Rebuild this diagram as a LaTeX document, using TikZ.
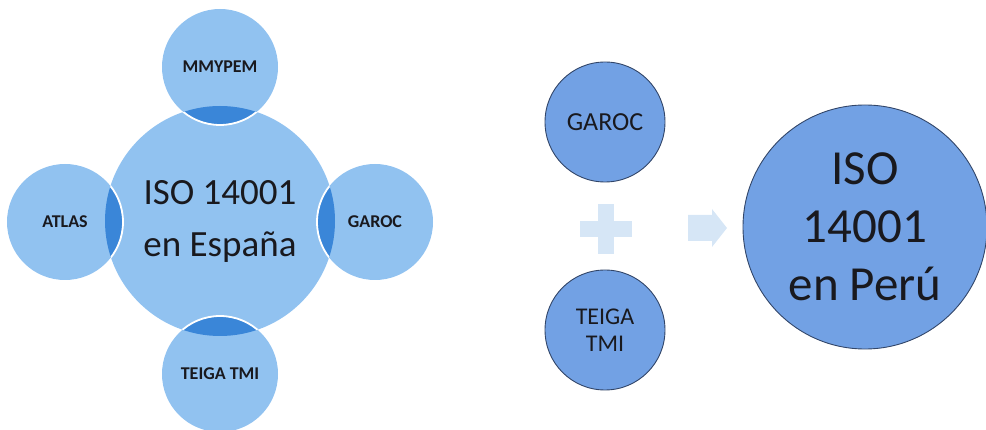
\documentclass[tikz,border=0pt]{standalone}
\usepackage{fontspec}
\setmainfont{Carlito}
\usetikzlibrary{calc}
\definecolor{lblue}{RGB}{145,194,240}
\definecolor{lens}{RGB}{58,134,216}
\definecolor{rblue}{RGB}{114,161,228}
\definecolor{redge}{RGB}{50,70,105}
\definecolor{pale}{RGB}{214,230,246}
\definecolor{txt}{RGB}{25,25,30}
\tikzset{
  lcirc/.style={circle, fill=lblue, inner sep=0pt, align=center, text=txt},
  lring/.style={draw=white, line width=1.8pt},
  rcirc/.style={circle, fill=rblue, draw=redge, line width=0.9pt, inner sep=0pt, align=center, text=txt},
  palefill/.style={fill=pale, draw=none},
  small/.style={font=\fontsize{18}{22}\selectfont\bfseries}
}
\begin{document}
\begin{tikzpicture}[x=1pt,y=-1pt]
\useasboundingbox (0,0) rectangle (986,430);
% ---- left: radial diagram ----
\node[lcirc, minimum size=230pt, font=\fontsize{37}{52}\selectfont] (c) at (220,221) {ISO 14001\\en España};
\node[lcirc, minimum size=116pt, small] (mm) at (220,67) {MMYPEM};
\node[lcirc, minimum size=116pt, small] (at) at (65,222) {ATLAS};
\node[lcirc, minimum size=116pt, small] (ga) at (375,222) {GAROC};
\node[lcirc, minimum size=116pt, small] (te) at (220,374) {TEIGA TMI};
\begin{scope}
  \clip (c.center) circle[radius=115];
  \foreach \s in {mm,at,ga,te} \fill[lens] (\s.center) circle[radius=58];
\end{scope}
\begin{scope}
  \clip (c.center) circle[radius=115];
  \foreach \s in {mm,at,ga,te} \draw[lring] (\s.center) circle[radius=58];
\end{scope}
% ---- right: equation ----
\node[rcirc, minimum size=120pt, font=\fontsize{26}{30}\selectfont] (g2) at (605,122) {GAROC};
\node[rcirc, minimum size=120pt, font=\fontsize{24}{27}\selectfont] (t2) at (605,330) {TEIGA\\TMI};
\node[rcirc, minimum size=244pt, font=\fontsize{49}{58}\selectfont] (p) at (865,227) {ISO\\14001\\en Perú};
% plus sign
\coordinate (plus) at (606,229);
\fill[palefill] ($(plus)+(-26,-8)$) rectangle ($(plus)+(26,8)$);
\fill[palefill] ($(plus)+(-8,-25)$) rectangle ($(plus)+(8,25)$);
% arrow
\coordinate (arr) at (707,228);
\fill[palefill] ($(arr)+(-19,-13)$) -- ($(arr)+(5,-13)$) -- ($(arr)+(5,-19)$) -- ($(arr)+(20,0)$)
  -- ($(arr)+(5,19)$) -- ($(arr)+(5,13)$) -- ($(arr)+(-19,13)$) -- cycle;
\end{tikzpicture}
\end{document}
